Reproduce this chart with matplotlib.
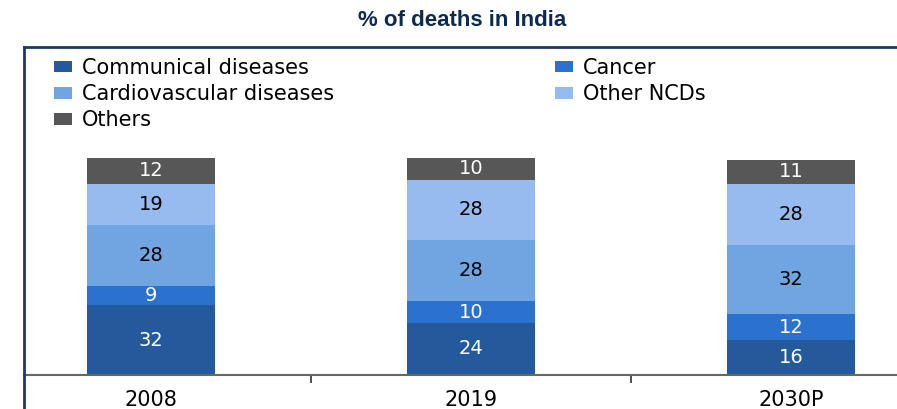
import matplotlib.pyplot as plt
import numpy as np
from matplotlib.lines import Line2D

years = ['2008', '2019', '2030P']
series = ['Communical diseases', 'Cancer', 'Cardiovascular diseases', 'Other NCDs', 'Others']
communical = [32, 24, 16]
cancer = [9, 10, 12]
cardio = [28, 28, 32]
other_ncds = [19, 28, 28]
others = [12, 10, 11]

colors = ['#245a9b', '#2a72ce', '#6fa6e2', '#96bbee', '#575757']
text_colors = ['white', 'white', 'black', 'black', 'white']
values = [communical, cancer, cardio, other_ncds, others]

W, H = 897, 409
fig = plt.figure(figsize=(W / 100, H / 100), dpi=100)
ax = fig.add_axes([24 / W, 34 / H, 1 - 24 / W, (375 - 47) / H])

x = np.arange(len(years))
bottom = np.zeros(len(years))
for name, vals, col, tc in zip(series, values, colors, text_colors):
    ax.bar(x, vals, 0.4, bottom=bottom, color=col, label=name)
    for xi, b, v in zip(x, bottom, vals):
        ax.text(xi, b + v / 2, str(v), ha='center', va='center',
                color=tc, fontsize=14)
    bottom += vals

ax.set_xlim(-0.397, 2.331)
ax.set_ylim(0, 151)
ax.set_yticks([])
ax.set_xticks(x)
ax.set_xticklabels(years, fontsize=15)
ax.set_xticks([0.5, 1.5], minor=True)
ax.tick_params(axis='x', which='major', length=0, pad=11)
ax.tick_params(axis='x', which='minor', length=6, width=1.2, color='#333333', direction='out')

ax.spines['right'].set_visible(False)
ax.spines['bottom'].set_color('#666666')
ax.spines['bottom'].set_linewidth(1.5)
ax.spines['top'].set_color('#1f3864')
ax.spines['top'].set_linewidth(2)
ax.spines['left'].set_visible(False)

# outer frame line on the left, running down past the axis
fig.add_artist(Line2D([24 / W, 24 / W], [0, 1 - 47 / H], color='#1f3864', lw=2,
                      transform=fig.transFigure))

handles, labels = ax.get_legend_handles_labels()
order = [0, 2, 4, 1, 3]
ax.legend([handles[i] for i in order], [labels[i] for i in order], ncol=2,
          loc='upper left', bbox_to_anchor=(0.02, 1.005), frameon=False,
          fontsize=15, handlelength=0.85, handleheight=0.5, handletextpad=0.5,
          columnspacing=10.6, labelspacing=0.3, borderaxespad=0.2)

fig.text(462 / W, 1 - 20 / H, '% of deaths in India', ha='center', va='center',
         fontsize=16, fontweight='bold', color='#0d2a50',
         family=['Liberation Sans Narrow', 'Liberation Sans'])

fig.savefig('out.png', dpi=100)
